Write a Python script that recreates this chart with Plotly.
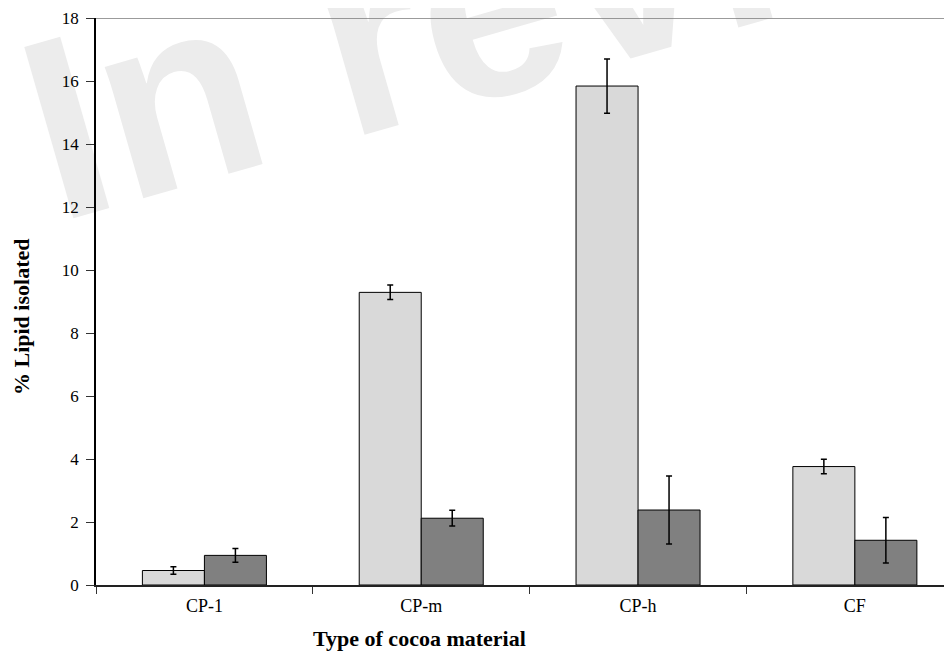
import plotly.graph_objects as go

categories = ["CP-1", "CP-m", "CP-h", "CF"]
series_a = [0.46, 9.29, 15.84, 3.76]
err_a = [0.12, 0.23, 0.86, 0.23]
series_b = [0.94, 2.12, 2.38, 1.42]
err_b = [0.22, 0.25, 1.08, 0.72]
y_ticks = [0, 2, 4, 6, 8, 10, 12, 14, 16, 18]

fig = go.Figure()
fig.add_trace(go.Bar(
    x=categories, y=series_a,
    marker=dict(color="#d9d9d9", line=dict(color="black", width=1)),
    error_y=dict(type="data", array=err_a, color="black", thickness=1.5, width=3),
    showlegend=False,
))
fig.add_trace(go.Bar(
    x=categories, y=series_b,
    marker=dict(color="#808080", line=dict(color="black", width=1)),
    error_y=dict(type="data", array=err_b, color="black", thickness=1.5, width=3),
    showlegend=False,
))

serif = "Liberation Serif, Times New Roman, serif"

fig.update_layout(
    width=944, height=644,
    margin=dict(l=88, r=0, t=10, b=67),
    paper_bgcolor="white", plot_bgcolor="white",
    barmode="group", bargap=0.428, bargroupgap=0,
    font=dict(family=serif, size=17, color="black"),
    xaxis=dict(
        type="category", range=[-0.5, 3.448],
        tickson="boundaries", ticks="outside", ticklen=7, tickcolor="#333",
        showline=True, linecolor="#222", linewidth=1.5,
        showgrid=False, zeroline=False,
        tickfont=dict(family=serif, size=18),
        ticklabelstandoff=4,
    ),
    yaxis=dict(
        range=[0, 18], tickvals=y_ticks, ticks="outside", ticklen=8, tickcolor="#333",
        showline=True, linecolor="black", linewidth=1.5,
        showgrid=False, zeroline=False,
        tickfont=dict(family=serif, size=17),
        ticklabelstandoff=4,
    ),
    annotations=[
        dict(text="<b>Type of cocoa material</b>", xref="paper", yref="paper",
             x=0.3785, y=-0.0952, xanchor="center", yanchor="middle", showarrow=False,
             font=dict(family=serif, size=22, color="black")),
        dict(text="<b>% Lipid isolated</b>", xref="paper", yref="paper",
             x=-0.0864, y=0.4727, xanchor="center", yanchor="middle", showarrow=False,
             textangle=-90, font=dict(family=serif, size=22, color="black")),
    ],
    shapes=[
        dict(type="rect", xref="paper", yref="paper", x0=0.5397, x1=0.5397, y0=1.102, y1=1.102,
             layer="below", line=dict(color="rgba(0,0,0,0)", width=0),
             label=dict(text="<b>In review</b>", textangle=-16, textposition="middle center",
                        xanchor="center", yanchor="middle",
                        font=dict(family="Liberation Sans, Arial, sans-serif", size=259, color="#ececec"))),
        dict(type="line", xref="paper", yref="y", x0=0, x1=1, y0=18, y1=18,
             line=dict(color="#7a7a7a", width=1.5), layer="above"),
    ],
)

fig.write_html("out.html")
